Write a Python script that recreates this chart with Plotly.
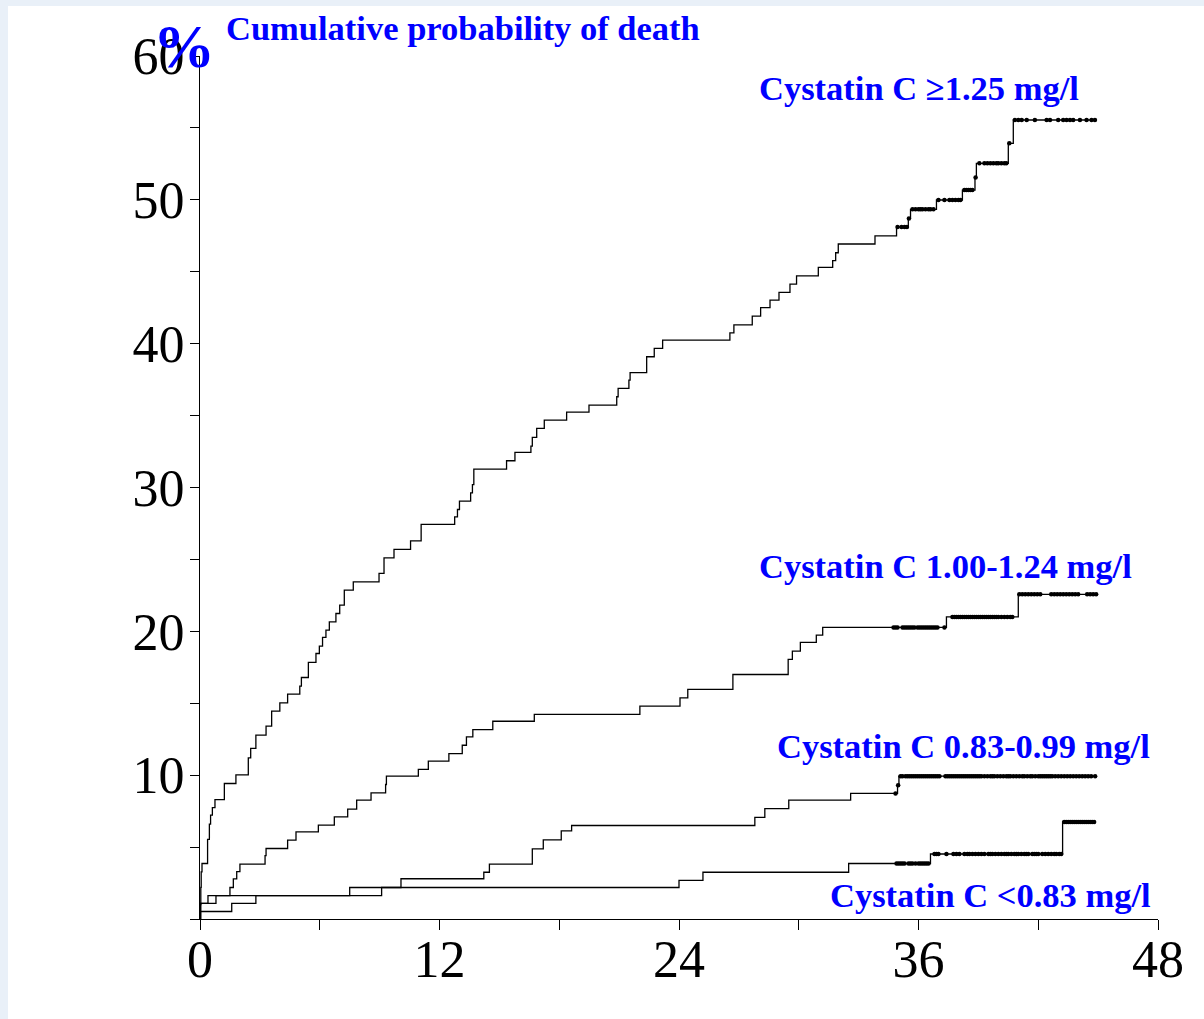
import numpy as np
import plotly.graph_objects as go

# Follow-up time (months) at each step and cumulative probability of death (%)
months_ge125 = [0, 0.02, 0.04, 0.06, 0.1, 0.38, 0.47, 0.53, 0.62, 0.75, 1.22, 1.8, 2.42, 2.54, 2.8,
                3.31, 3.59, 4.0, 4.39, 5.0, 5.08, 5.43, 5.81, 5.98, 6.14, 6.31, 6.48, 6.81, 7.0, 7.23,
                7.68, 8.97, 9.22, 9.72, 10.55, 11.08, 12.76, 12.9, 13.0, 13.56, 13.65, 13.72, 15.36,
                15.78, 16.58, 16.65, 16.87, 17.25, 18.37, 19.49, 20.88, 20.95, 21.49, 21.55, 22.38,
                22.76, 23.18, 26.55, 26.75, 27.67, 28.09, 28.56, 29.01, 29.56, 29.89, 30.98, 31.7,
                31.85, 31.98, 33.82, 34.9, 35.49, 35.6, 36.9, 38.2, 38.83, 38.9, 40.5, 40.75, 44.92]
pct_ge125 = [0, 1.0, 2.2, 3.28, 3.86, 5.53, 6.6, 7.22, 7.75, 8.3, 9.42, 10.02, 11.2, 11.86, 12.78,
             13.41, 14.45, 15.03, 15.63, 16.19, 16.79, 17.84, 18.46, 18.97, 19.58, 20.08, 20.66, 21.24,
             21.82, 22.86, 23.44, 24.03, 25.11, 25.7, 26.29, 27.43, 27.96, 28.47, 29.05, 29.63, 30.2,
             31.28, 31.86, 32.44, 32.88, 33.48, 34.11, 34.69, 35.24, 35.73, 36.31, 36.89, 37.47, 37.98,
             39.09, 39.67, 40.25, 40.75, 41.3, 41.92, 42.5, 43.03, 43.57, 44.14, 44.72, 45.3, 45.77,
             46.32, 46.93, 47.5, 48.11, 48.71, 49.34, 49.99, 50.68, 51.56, 52.54, 53.93, 55.55, 55.55]
censor_ge125 = [34.95, 35.15, 35.3, 35.42, 35.52, 35.7, 35.85, 36.0, 36.1, 36.2, 36.35, 36.5, 36.6,
                36.75, 37.0, 37.3, 37.55, 37.7, 37.85, 38.0, 38.1, 38.3, 38.4, 38.5, 38.6, 38.7, 38.86,
                39.05, 39.3, 39.45, 39.6, 39.75, 39.9, 40.0, 40.15, 40.3, 40.4, 40.55, 40.83, 41.0,
                41.17, 41.42, 41.83, 42.42, 42.59, 43.0, 43.25, 43.42, 43.59, 43.75, 44.09, 44.42,
                44.67, 44.84]

months_100_124 = [0, 0.03, 0.8, 1.5, 1.67, 1.84, 2.0, 3.26, 3.31, 4.39, 4.81, 5.93, 6.73, 7.4, 7.85,
                  8.57, 9.3, 9.34, 10.94, 11.44, 12.47, 13.14, 13.35, 13.67, 14.67, 16.75, 22.04,
                  24.05, 24.44, 26.7, 29.47, 29.68, 30.08, 30.88, 31.2, 37.4, 41.0, 44.92]
pct_100_124 = [0, 1.08, 1.63, 2.19, 2.79, 3.3, 3.81, 4.41, 4.9, 5.48, 6.06, 6.52, 7.1, 7.64, 8.26,
               8.77, 9.35, 9.93, 10.4, 10.97, 11.5, 12.08, 12.66, 13.17, 13.75, 14.22, 14.8, 15.38,
               15.96, 17.0, 18.05, 18.62, 19.23, 19.74, 20.27, 21.0, 22.57, 22.57]
censor_100_124 = [34.75, 34.85, 34.95, 35.2, 35.3, 35.4, 35.5, 35.6, 35.7, 35.8, 35.95, 36.05, 36.15,
                  36.25, 36.35, 36.45, 36.55, 36.65, 36.75, 36.85, 36.95, 37.3, 37.7, 37.8, 37.9,
                  38.0, 38.1, 38.2, 38.3, 38.4, 38.5, 38.6, 38.7, 38.8, 38.9, 39.0, 39.1, 39.2, 39.3,
                  39.4, 39.5, 39.6, 39.7, 39.8, 39.9, 40.0, 40.15, 40.3, 40.45, 40.6, 40.7, 41.05,
                  41.2, 41.35, 41.5, 41.65, 41.8, 41.95, 42.1, 42.65, 42.8, 42.95, 43.1, 43.25, 43.4,
                  43.55, 43.7, 43.85, 44.0, 44.45, 44.6, 44.75, 44.9]

months_083_099 = [0, 0.03, 0.4, 7.5, 10.07, 14.22, 14.5, 16.65, 17.2, 18.1, 18.62, 27.8, 28.3, 29.5,
                  32.6, 34.95, 35.02, 44.85]
pct_083_099 = [0, 1.08, 1.63, 2.19, 2.8, 3.25, 3.82, 4.87, 5.5, 6.12, 6.5, 7.06, 7.68, 8.26, 8.73,
               9.3, 9.93, 9.93]
censor_083_099 = [34.85, 34.98, 35.1, 35.2, 35.35, 35.45, 35.55, 35.65, 35.75, 35.85, 35.95, 36.05,
                  36.15, 36.25, 36.35, 36.45, 36.55, 36.65, 36.75, 36.85, 36.95, 37.05, 37.35, 37.45,
                  37.55, 37.65, 37.75, 37.85, 37.95, 38.05, 38.15, 38.25, 38.35, 38.45, 38.55, 38.65,
                  38.75, 38.85, 38.95, 39.05, 39.15, 39.3, 39.45, 39.6, 39.7, 39.8, 39.95, 40.1, 40.25,
                  40.4, 40.5, 40.6, 40.75, 40.9, 41.05, 41.2, 41.3, 41.45, 41.6, 41.7, 41.85, 42.0,
                  42.1, 42.2, 42.3, 42.4, 42.5, 42.6, 42.7, 42.85, 43.0, 43.15, 43.3, 43.45, 43.6,
                  43.75, 43.9, 44.05, 44.2, 44.35, 44.5, 44.65, 44.85]

months_lt083 = [0, 0.02, 1.59, 2.8, 9.1, 24.0, 25.2, 32.5, 36.6, 43.22, 44.85]
pct_lt083 = [0, 0.52, 1.08, 1.63, 2.19, 2.69, 3.25, 3.86, 4.52, 6.75, 6.75]
censor_lt083 = [34.9, 35.0, 35.1, 35.2, 35.3, 35.5, 35.6, 35.7, 35.85, 36.0, 36.1, 36.2, 36.3, 36.4,
                36.5, 36.8, 36.9, 37.0, 37.4, 37.75, 37.9, 38.05, 38.3, 38.45, 38.55, 38.7, 38.85,
                39.0, 39.15, 39.3, 39.5, 39.6, 39.7, 39.85, 40.0, 40.15, 40.3, 40.4, 40.5, 40.65,
                40.8, 40.9, 41.0, 41.15, 41.3, 41.4, 41.5, 41.7, 41.8, 41.9, 42.0, 42.2, 42.35, 42.5,
                42.65, 42.8, 42.9, 43.05, 43.15, 43.3, 43.4, 43.5, 43.6, 43.7, 43.8, 43.9, 44.0,
                44.1, 44.2, 44.3, 44.4, 44.5, 44.6, 44.7, 44.8]

group_labels = ["Cystatin C \u22651.25 mg/l", "Cystatin C 1.00-1.24 mg/l",
                "Cystatin C 0.83-0.99 mg/l", "Cystatin C <0.83 mg/l"]

x_tick_vals = [0, 12, 24, 36, 48]
x_tick_text = ["0", "12", "24", "36", "48"]
y_tick_vals = [10, 20, 30, 40, 50, 60]
y_tick_text = ["10", "20", "30", "40", "50", "60"]

BLUE = "#0000FF"
SERIF = "Liberation Serif, Times New Roman, serif"

groups = [
    (months_ge125, pct_ge125, censor_ge125),
    (months_100_124, pct_100_124, censor_100_124),
    (months_083_099, pct_083_099, censor_083_099),
    (months_lt083, pct_lt083, censor_lt083),
]

fig = go.Figure()
for name, (t, p, c) in zip(group_labels, groups):
    t_arr = np.asarray(t)
    p_arr = np.asarray(p)
    fig.add_trace(go.Scatter(
        x=t_arr, y=p_arr, mode="lines", name=name,
        line=dict(shape="hv", color="black", width=1.3),
        showlegend=False, hoverinfo="skip", cliponaxis=False,
    ))
    # censored observations sit on the step level in force at their time
    c_arr = np.asarray(c)
    idx = np.searchsorted(t_arr, c_arr, side="right") - 1
    fig.add_trace(go.Scatter(
        x=c_arr, y=p_arr[idx], mode="markers", name=name + " (censored)",
        marker=dict(size=4.5, color="black", symbol="circle", line=dict(width=0)),
        showlegend=False, hoverinfo="skip", cliponaxis=False,
    ))

# group labels placed beside the end of each curve
label_pos = [(27.9, 57.77), (27.9, 24.53), (28.8, 12.02), (31.46, 1.66)]
for text, (lx, ly) in zip(group_labels, label_pos):
    fig.add_annotation(x=lx, y=ly, xref="x", yref="y", text=text, showarrow=False,
                       xanchor="left", yanchor="middle",
                       font=dict(family=SERIF, size=34.5, color=BLUE, weight="bold"))

# y-axis unit and chart heading, above the top of the axis
fig.add_annotation(x=-0.0167, y=1.0116, xref="paper", yref="paper", text="%", showarrow=False,
                   xanchor="center", yanchor="middle",
                   font=dict(family=SERIF, size=62, color=BLUE, weight="bold"))
fig.add_annotation(x=0.025, y=1.0325, xref="paper", yref="paper",
                   text="Cumulative probability of death",
                   showarrow=False, xanchor="left", yanchor="middle",
                   font=dict(family=SERIF, size=34.5, color=BLUE, weight="bold"))

# pale frame along the top and left edges of the page
fig.add_shape(type="rect", xref="paper", yref="paper", x0=-0.3, x1=1.2, y0=1.058, y1=1.2,
              fillcolor="#e9f0f8", line=dict(width=0), layer="below")
fig.add_shape(type="rect", xref="paper", yref="paper", x0=-0.3, x1=-0.2004, y0=-0.2, y1=1.2,
              fillcolor="#e9f0f8", line=dict(width=0), layer="below")

axis_font = dict(family=SERIF, size=52, color="black")
fig.update_xaxes(
    range=[0, 48], tickvals=x_tick_vals, ticktext=x_tick_text,
    ticks="outside", ticklen=10, tickwidth=1.2, tickcolor="black",
    minor=dict(dtick=6, tick0=0, ticks="outside", ticklen=10, tickwidth=1.2, tickcolor="black"),
    showline=True, linecolor="black", linewidth=1.3,
    showgrid=False, zeroline=False, tickfont=axis_font, ticklabelstandoff=-16,
)
fig.update_yaxes(
    range=[0, 60], tickvals=y_tick_vals, ticktext=y_tick_text,
    ticks="outside", ticklen=9, tickwidth=1.2, tickcolor="black",
    minor=dict(dtick=5, tick0=0, ticks="outside", ticklen=9, tickwidth=1.2, tickcolor="black"),
    showline=True, linecolor="black", linewidth=1.3,
    showgrid=False, zeroline=False, tickfont=axis_font, ticklabelstandoff=-5,
)

fig.update_layout(
    width=1204, height=1019,
    margin=dict(l=200, r=46, t=56, b=100),
    paper_bgcolor="white", plot_bgcolor="white",
    showlegend=False,
)

fig.write_html("out.html")
